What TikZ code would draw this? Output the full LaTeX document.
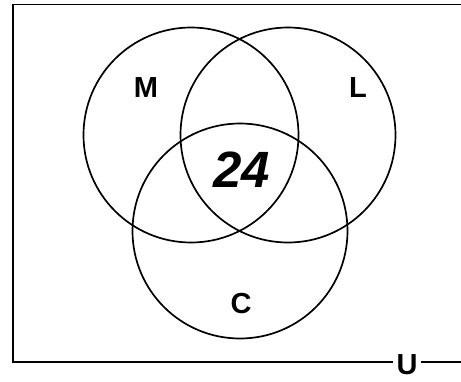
\documentclass[tikz,border=0pt]{standalone}
\usepackage{fontspec}
\setmainfont{Liberation Sans}
\begin{document}
\begin{tikzpicture}[x=1pt,y=-1pt,
  frame/.style={line width=1.8pt, line cap=rect},
  setc/.style={circle, draw, line width=1.7pt, minimum size=215pt, inner sep=0pt},
  lab/.style={font=\fontsize{29}{31}\selectfont\bfseries, inner sep=0pt},
  num/.style={font=\fontsize{51}{53}\selectfont\bfseries\itshape, inner sep=0pt}]
\useasboundingbox (0,0) rectangle (461,381);
\coordinate (tl) at (12.7,4.5);
\coordinate (tr) at (470,4.5);
\coordinate (bl) at (12.7,362);
\coordinate (br) at (470,362);
\node[setc] (M) at (191,135) {};
\node[setc] (L) at (288,135) {};
\node[setc] (C) at (240,231) {};
\node[lab] (mlab) at (146,88) {M};
\node[lab] (llab) at (358,88) {L};
\node[lab] (clab) at (241,304) {C};
\node[num] (n24) at (242,170) {24};
\node[lab, inner xsep=4pt] (U) at (407,364.5) {U};
\draw[frame] (tr) -- (tl) -- (bl) -- (U.west |- bl);
\draw[frame] (U.east |- bl) -- (br);
\end{tikzpicture}
\end{document}
